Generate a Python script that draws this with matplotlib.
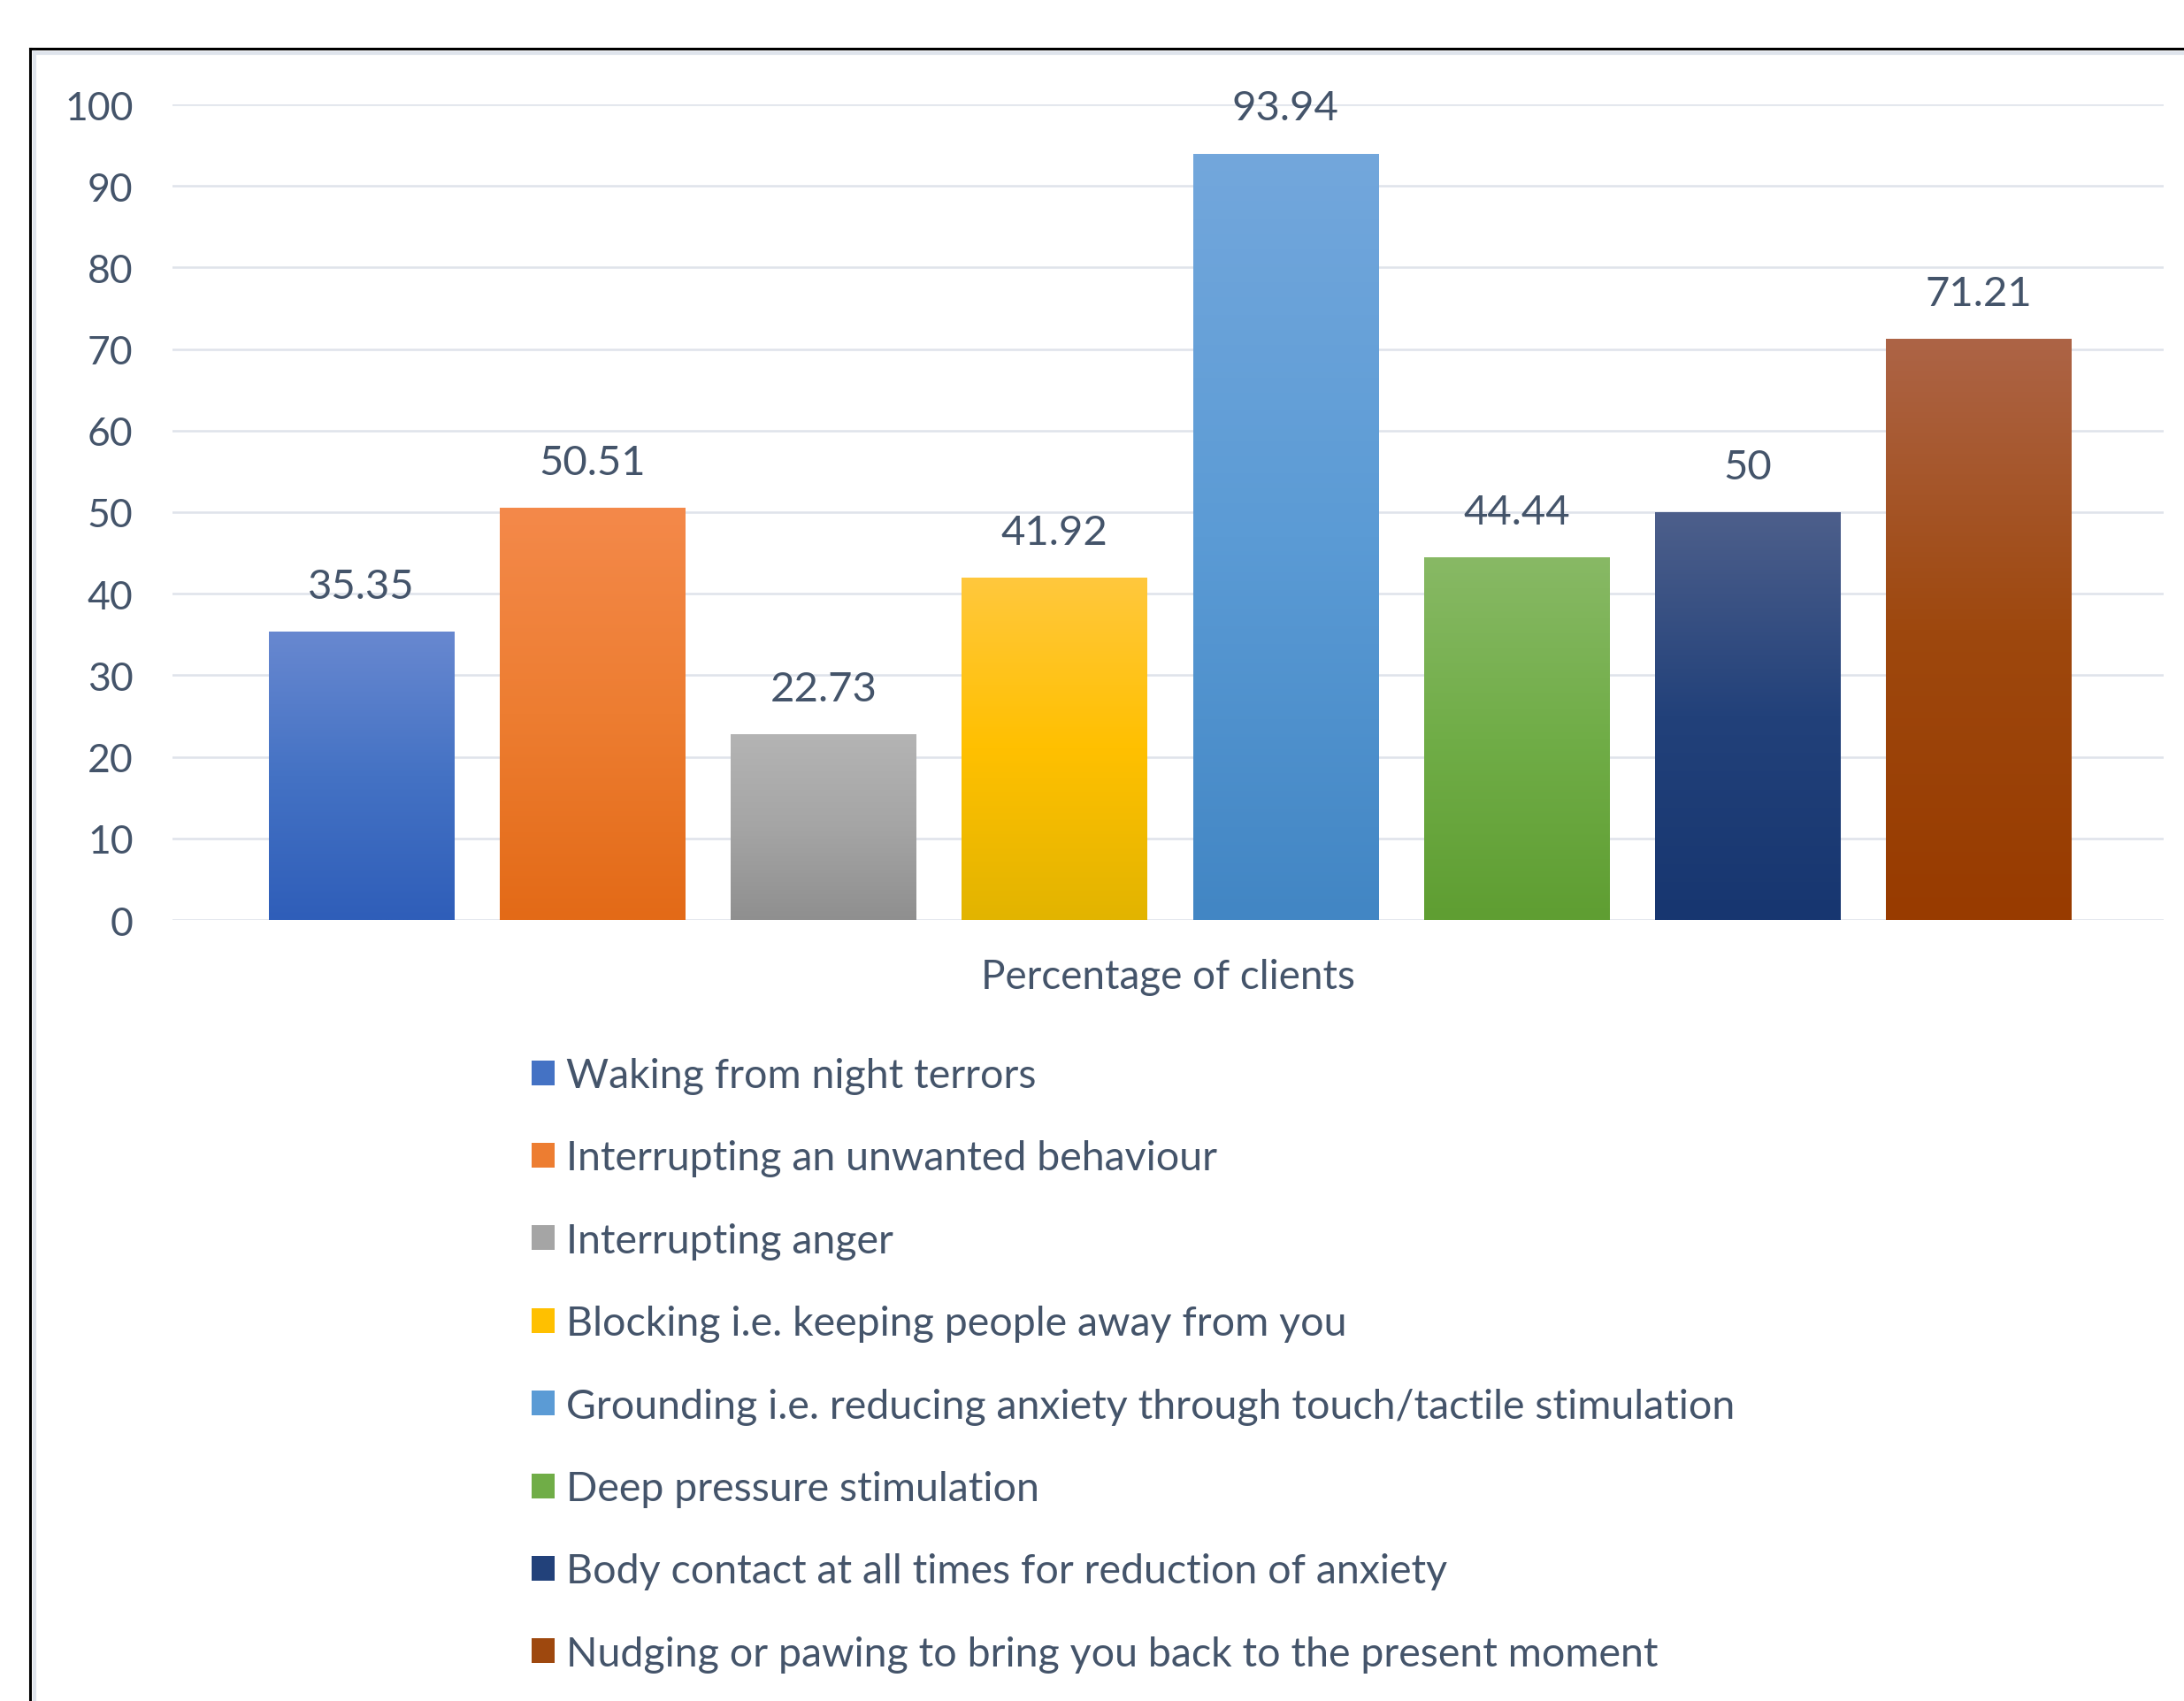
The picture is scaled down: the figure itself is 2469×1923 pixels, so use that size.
import numpy as np
import matplotlib.pyplot as plt
from matplotlib.patches import Patch
from matplotlib.lines import Line2D
from matplotlib.colors import LinearSegmentedColormap

# Data
labels = ['Waking from night terrors',
          'Interrupting an unwanted behaviour',
          'Interrupting anger',
          'Blocking i.e. keeping people away from you',
          'Grounding i.e. reducing anxiety through touch/tactile stimulation',
          'Deep pressure stimulation',
          'Body contact at all times for reduction of anxiety',
          'Nudging or pawing to bring you back to the present moment']
values = [35.35, 50.51, 22.73, 41.92, 93.94, 44.44, 50, 71.21]
value_text = ['35.35', '50.51', '22.73', '41.92', '93.94', '44.44', '50', '71.21']
yticks = [0, 10, 20, 30, 40, 50, 60, 70, 80, 90, 100]

# top / middle / bottom gradient colours per bar
top_cols = ['#6888d0', '#f4894a', '#b4b4b4', '#ffc83d', '#73a7dc', '#88b965', '#4d5f8b', '#ad6446']
mid_cols = ['#4472c4', '#ed7d31', '#a5a5a5', '#ffc000', '#5b9bd5', '#70ad47', '#22417a', '#9e480e']
bot_cols = ['#2f5eb9', '#e36a17', '#8f8f8f', '#e2b400', '#4286c4', '#5f9e32', '#173670', '#983b00']

text_col = '#44546A'
plt.rcParams['font.family'] = ['Lato', 'DejaVu Sans']

W, H = 2469, 1924
fig = plt.figure(figsize=(W / 100, H / 100), dpi=100)
ax = fig.add_axes([195 / W, 1 - 1041 / H, (2446 - 195) / W, (1041 - 119) / H])

x = np.arange(len(values))
bars = ax.bar(x, values, width=0.8, color=mid_cols, edgecolor='none', zorder=2)

# gradient fill clipped to each bar
grad = np.linspace(0, 1, 256).reshape(-1, 1)
for b, t, m, bt in zip(bars, top_cols, mid_cols, bot_cols):
    cmap = LinearSegmentedColormap.from_list('g', [bt, m, t])
    x0, y0 = b.get_x(), b.get_y()
    im = ax.imshow(grad, cmap=cmap, origin='lower', aspect='auto',
                   extent=[x0, x0 + b.get_width(), y0, y0 + b.get_height()], zorder=3)
    im.set_clip_path(b)

for xi, v, s in zip(x, values, value_text):
    ax.annotate(s, (xi, v), xytext=(0, 37), textcoords='offset points',
                ha='center', va='center', fontsize=34, color=text_col)

ax.set_xlim(-0.816, 7.80)
ax.set_ylim(0, 100)
ax.set_yticks(yticks)
ax.set_xticks([])
ax.grid(axis='y', color='#dfe3ea', linewidth=1.8, zorder=0)
ax.set_axisbelow(True)
for sp in ax.spines.values():
    sp.set_visible(False)
ax.tick_params(axis='y', length=0, pad=32, labelsize=32, labelcolor=text_col)
ax.set_xlabel('Percentage of clients', fontsize=33, color=text_col, labelpad=31)

handles = [Patch(facecolor=c, edgecolor='none') for c in mid_cols]
fig.legend(handles, labels, loc='upper left', bbox_to_anchor=(601 / W, 1 - 1196 / H),
           frameon=False, fontsize=33.5, labelcolor=text_col, handlelength=0.55,
           handleheight=0.55, handletextpad=0.28, labelspacing=1.105, borderpad=0,
           borderaxespad=0)

# frame of the cropped chart
fig.add_artist(Line2D([34 / W, 34 / W], [1 - 56 / H, 0], transform=fig.transFigure,
                      color='black', lw=2.2))
fig.add_artist(Line2D([34 / W, 1], [1 - 56 / H, 1 - 56 / H], transform=fig.transFigure,
                      color='black', lw=2.2))
fig.add_artist(Line2D([38.5 / W, 38.5 / W], [1 - 60 / H, 0], transform=fig.transFigure,
                      color='#dfe4ec', lw=3))
fig.add_artist(Line2D([38.5 / W, 1], [1 - 60.5 / H, 1 - 60.5 / H], transform=fig.transFigure,
                      color='#dfe4ec', lw=3))

fig.savefig('out.png', dpi=100)
